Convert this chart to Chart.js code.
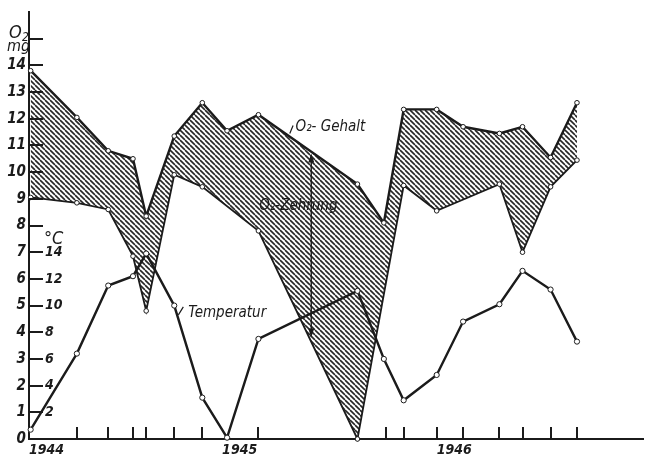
<!DOCTYPE html>
<html lang="de">
<head>
<meta charset="utf-8">
<title>O2-Gehalt, O2-Zehrung und Temperatur 1944–1946</title>
<script src="https://cdn.jsdelivr.net/npm/chart.js@4.4.1/dist/chart.umd.min.js"></script>
<style>
  html, body { margin: 0; padding: 0; background: #fff; }
  #chart { display: block; }
</style>
</head>
<body>
<canvas id="chart" width="648" height="457"></canvas>
<script>
// Probenahmen, Monate ab Januar 1944
const monate = [0.1, 2.9, 4.8, 6.3, 7.1, 8.8, 10.5, 12.0, 13.9, 19.9, 21.5, 22.7, 24.7, 26.3, 28.5, 29.9, 31.6, 33.2];
// O2-Gehalt in mg (obere Kurve)
const o2Gehalt = [13.8, 12.05, 10.8, 10.5, 8.35, 11.35, 12.6, 11.55, 12.15, 9.55, 8.1, 12.35, 12.35, 11.7, 11.45, 11.7, 10.55, 12.6];
// O2 nach der Zehrung in mg (untere Kurve), null = kein Messpunkt
const o2Rest = [9.05, 8.85, 8.6, 6.85, 4.8, 9.9, 9.45, null, 7.8, 0, null, 9.5, 8.55, null, 9.55, 7.0, 9.45, 10.45];
// Temperatur in °C
const temperatur = [0.7, 6.4, 11.5, 12.2, 13.9, 10.0, 3.1, 0.1, 7.5, 11.1, 6.0, 2.9, 4.8, 8.8, 10.1, 12.6, 11.2, 7.3];

// Achsenbeschriftung
const o2Striche = [1, 2, 3, 4, 5, 6, 7, 8, 9, 10, 11, 12, 13, 14, 15];
const tempStriche = [2, 4, 6, 8, 10, 12, 14];
const jahrMonate = [0, 11.7, 24.7];
const jahre = ['1944', '1945', '1946'];
const zeitStriche = [2.9, 4.8, 6.3, 7.1, 8.8, 10.5, 13.9, 21.6, 22.7, 24.7, 26.3, 28.5, 29.9, 31.6, 33.2];

const ink = '#1b1b1b';
const schrift = '"DejaVu Sans Condensed", "Liberation Sans Narrow", "DejaVu Sans", sans-serif';

function punkte(werte) {
    return monate.map((m, i) => ({ x: m, y: werte[i] })).filter(p => p.y !== null);
}

// Schraffur für die O2-Zehrung
function schraffur() {
    const s = 5;
    const c = document.createElement('canvas');
    c.width = s; c.height = s;
    const g = c.getContext('2d');
    g.strokeStyle = '#262626';
    g.lineWidth = 1.6;
    [-s, 0, s].forEach(k => {
        g.beginPath();
        g.moveTo(k, 0);
        g.lineTo(k + s, s);
        g.stroke();
    });
    return g.createPattern(c, 'repeat');
}

function pfeilspitze(ctx, x, y, richtung) {
    ctx.beginPath();
    ctx.moveTo(x, y);
    ctx.lineTo(x - 3, y - 9 * richtung);
    ctx.lineTo(x + 3, y - 9 * richtung);
    ctx.closePath();
    ctx.fill();
}

// Teilstriche, Temperaturskala und Beschriftungen
const zeichnung = {
    id: 'zeichnung',
    afterDatasetsDraw(chart) {
        const { ctx, scales: { x, y, yT } } = chart;
        ctx.save();
        ctx.strokeStyle = ink;
        ctx.fillStyle = ink;
        ctx.lineWidth = 2;

        o2Striche.forEach(v => {
            const py = Math.round(y.getPixelForValue(v));
            ctx.beginPath();
            ctx.moveTo(x.left, py);
            ctx.lineTo(x.left + 14, py);
            ctx.stroke();
        });
        zeitStriche.forEach(m => {
            const px = Math.round(x.getPixelForValue(m));
            ctx.beginPath();
            ctx.moveTo(px, y.bottom);
            ctx.lineTo(px, y.bottom - 12);
            ctx.stroke();
        });

        ctx.textBaseline = 'middle';
        ctx.textAlign = 'left';
        ctx.font = 'italic bold 14px ' + schrift;
        tempStriche.forEach(t => ctx.fillText(String(t), x.left + 16, yT.getPixelForValue(t)));

        ctx.textBaseline = 'alphabetic';
        ctx.font = 'italic 18px ' + schrift;
        ctx.fillText('°C', x.left + 15, 244);
        ctx.fillText('O', 9, 38);
        ctx.font = 'italic 12px ' + schrift;
        ctx.fillText('2', 22, 41);
        ctx.font = 'italic 16px ' + schrift;
        ctx.fillText('mg', 7, 51);

        // Kurvenbeschriftungen
        ctx.font = 'italic 15px ' + schrift;
        ctx.textBaseline = 'middle';
        ctx.fillText('O₂- Gehalt', x.getPixelForValue(16.15), y.getPixelForValue(11.68));
        ctx.fillText('O₂-Zehrung', x.getPixelForValue(13.95), y.getPixelForValue(8.73));
        ctx.fillText('Temperatur', x.getPixelForValue(9.65), y.getPixelForValue(4.7));

        ctx.lineWidth = 1.2;
        ctx.beginPath();
        ctx.moveTo(x.getPixelForValue(15.8), y.getPixelForValue(11.45));
        ctx.lineTo(x.getPixelForValue(16.0), y.getPixelForValue(11.75));
        ctx.moveTo(x.getPixelForValue(9.05), y.getPixelForValue(4.65));
        ctx.lineTo(x.getPixelForValue(9.35), y.getPixelForValue(4.95));
        ctx.stroke();

        // Pfeil der O2-Zehrung
        const px = x.getPixelForValue(17.1);
        const oben = y.getPixelForValue(10.7);
        const unten = y.getPixelForValue(3.8);
        ctx.lineWidth = 1.4;
        ctx.beginPath();
        ctx.moveTo(px, oben + 4);
        ctx.lineTo(px, unten - 4);
        ctx.stroke();
        pfeilspitze(ctx, px, oben, -1);
        pfeilspitze(ctx, px, unten, 1);
        ctx.restore();
    }
};

const tickFont = { family: schrift, size: 15, style: 'italic', weight: 'bold' };

new Chart(document.getElementById('chart'), {
    type: 'line',
    data: {
        datasets: [
            {
                label: 'O2-Gehalt',
                data: punkte(o2Gehalt),
                borderColor: ink,
                borderWidth: 2.4,
                backgroundColor: schraffur(),
                fill: '+1',
                pointRadius: 2.3,
                pointBorderWidth: 1,
                pointBackgroundColor: '#fff',
                pointBorderColor: ink,
                order: 1,
                clip: false
            },
            {
                label: 'O2 nach Zehrung',
                data: punkte(o2Rest),
                borderColor: ink,
                borderWidth: 1.8,
                fill: false,
                pointRadius: 2.3,
                pointBorderWidth: 1,
                pointBackgroundColor: '#fff',
                pointBorderColor: ink,
                order: 2,
                clip: false
            },
            {
                label: 'Temperatur',
                data: punkte(temperatur),
                yAxisID: 'yT',
                borderColor: ink,
                borderWidth: 2.4,
                fill: false,
                pointRadius: 2.6,
                pointBorderWidth: 1,
                pointBackgroundColor: '#fff',
                pointBorderColor: ink,
                order: 0,
                clip: false
            }
        ]
    },
    options: {
        responsive: false,
        animation: false,
        devicePixelRatio: 1,
        events: [],
        layout: { padding: { top: 10, right: 3, left: 0, bottom: 0 } },
        scales: {
            x: {
                type: 'linear',
                min: 0,
                max: 37.2,
                afterFit(s) { s.height = 18; },
                afterBuildTicks(s) { s.ticks = jahrMonate.map(v => ({ value: v })); },
                border: { color: ink, width: 2 },
                grid: { display: false, drawTicks: false },
                ticks: {
                    align: 'start',
                    padding: 3,
                    maxRotation: 0,
                    autoSkip: false,
                    color: ink,
                    font: { family: schrift, size: 14, style: 'italic', weight: 'bold' },
                    callback: (v, i) => jahre[i]
                }
            },
            y: {
                min: 0,
                max: 16,
                afterFit(s) { s.width = 29; },
                border: { color: ink, width: 2 },
                grid: { display: false, drawTicks: false },
                ticks: {
                    stepSize: 1,
                    padding: 3,
                    color: ink,
                    font: tickFont,
                    callback: v => (v <= 14 ? v : '')
                }
            },
            yT: { display: false, min: 0, max: 32 }
        },
        plugins: {
            legend: { display: false },
            tooltip: { enabled: false },
            filler: { drawTime: 'beforeDatasetsDraw' }
        }
    },
    plugins: [zeichnung]
});
</script>
</body>
</html>
